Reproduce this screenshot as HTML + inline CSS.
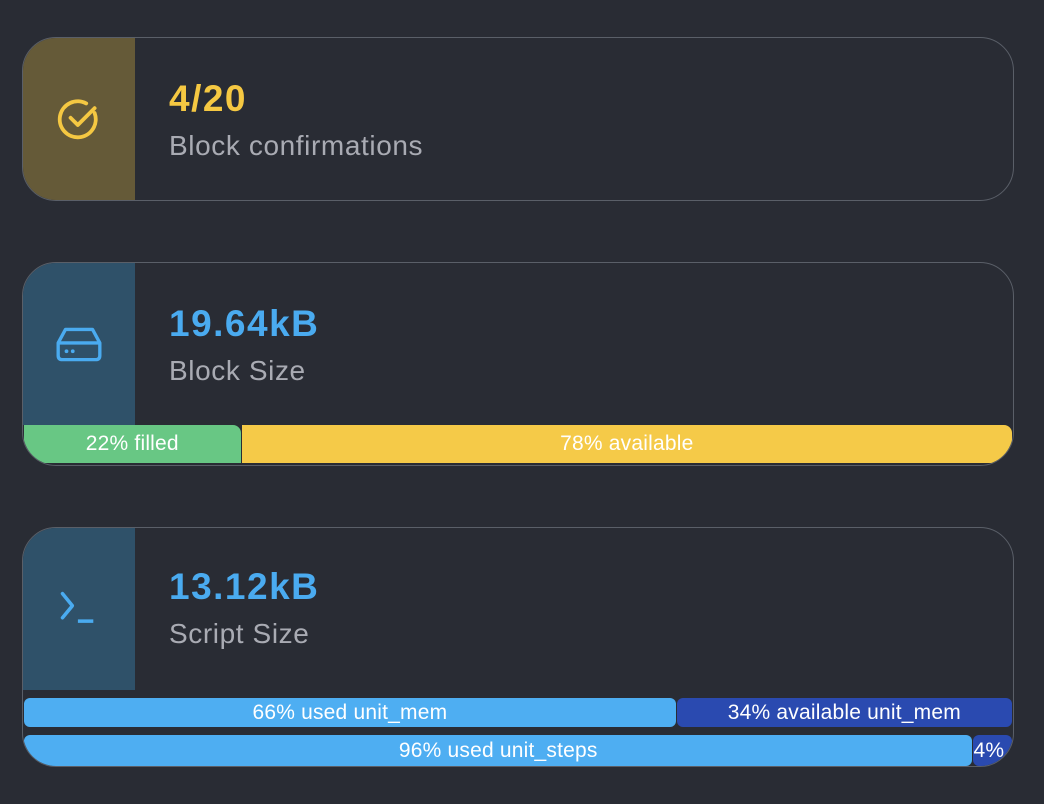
<!DOCTYPE html>
<html><head><meta charset="utf-8"><style>
body{margin:0;width:1044px;height:804px;background:#292c34;font-family:"Liberation Sans",sans-serif;overflow:hidden}
.card{position:absolute;left:22px;width:990px;border:1.5px solid #5a5f68;border-radius:34px;overflow:hidden;background:#292c34}
.icon{position:absolute;left:0;top:0;width:112px;display:flex;align-items:center;justify-content:center}
.val{position:absolute;left:146px;font-size:37px;letter-spacing:1.5px;font-weight:bold}
.sub{position:absolute;left:146px;font-size:28px;letter-spacing:0.6px;color:#a9abb3}
.seg{position:absolute;display:flex;align-items:center;justify-content:center;color:#fff;font-size:21px;letter-spacing:0.2px;white-space:nowrap;overflow:hidden}
</style></head><body>
<div class="card" style="top:37px;height:162px">
 <div class="icon" style="height:162px;background:#655a38">
  <svg width="48" height="48" viewBox="0 0 40 40"><path d="M33 15 A15 15 0 1 1 26 7" fill="none" stroke="#f5c842" stroke-width="3.2" stroke-linecap="round"/><path d="M13 19 L19 25 L33 11" fill="none" stroke="#f5c842" stroke-width="3.2" stroke-linecap="round" stroke-linejoin="round"/></svg>
 </div>
 <div class="val" style="top:40px;color:#f5c842">4/20</div>
 <div class="sub" style="top:92px">Block confirmations</div>
</div>
<div class="card" id="c2" style="top:262px;height:202px">
 <div class="icon" style="height:162px;background:#2f5169">
  <svg width="50" height="42" viewBox="0 0 48 40"><path d="M11 6 H37 L44 19 V31 Q44 35 40 35 H8 Q4 35 4 31 V19 Z M4 19 H44" fill="none" stroke="#4aabf0" stroke-width="3.2" stroke-linejoin="round"/><circle cx="12" cy="27" r="1.8" fill="#4aabf0"/><circle cx="18" cy="27" r="1.8" fill="#4aabf0"/></svg>
 </div>
 <div class="val" style="top:40px;color:#4aabf0">19.64kB</div>
 <div class="sub" style="top:92px">Block Size</div>
</div>
<div class="card" id="c3" style="top:527px;height:238px">
 <div class="icon" style="height:162px;background:#2f5169">
  <svg width="44" height="44" viewBox="0 0 40 40"><path d="M5 6 L14 17 L5 28" fill="none" stroke="#4aabf0" stroke-width="3.2" stroke-linecap="round" stroke-linejoin="round"/><path d="M19 31 H33" stroke="#4aabf0" stroke-width="3.2"/></svg>
 </div>
 <div class="val" style="top:38px;color:#4aabf0">13.12kB</div>
 <div class="sub" style="top:90px">Script Size</div>
</div>
<script>
const blockLabels=["filled","available"];
const blockValues=[22,78];
const memLabels=["used unit_mem","available unit_mem"];
const memValues=[66,34];
const stepLabels=["used unit_steps",""];
const stepValues=[96,4];
const W=989;
function drawBar(card,vals,labels,colors,top,h,name,radius){
  let x=1;
  vals.forEach((v,i)=>{
    const w=W*v/100;
    const d=document.createElement('div');
    
    
    d.className='seg';
    d.style.left=x+'px';d.style.top=top+'px';d.style.width=(w-1)+'px';d.style.height=h+'px';
    d.style.background=colors[i];d.style.borderRadius=radius;
    d.textContent=v+'%'+(labels[i]?' '+labels[i]:'');
    if(w<60){d.style.justifyContent='flex-start';}
    card.appendChild(d);x+=w;
  });
}
drawBar(document.getElementById('c2'),blockValues,blockLabels,['#68c784','#f5ca48'],162,38,'block-size-bar','0 8px 0 0');
drawBar(document.getElementById('c3'),memValues,memLabels,['#4eaef2','#2a4ab0'],170,29,'unit-mem-bar','6px');
drawBar(document.getElementById('c3'),stepValues,stepLabels,['#4eaef2','#2a4ab0'],207,31,'unit-steps-bar','6px');
</script>
</body></html>
